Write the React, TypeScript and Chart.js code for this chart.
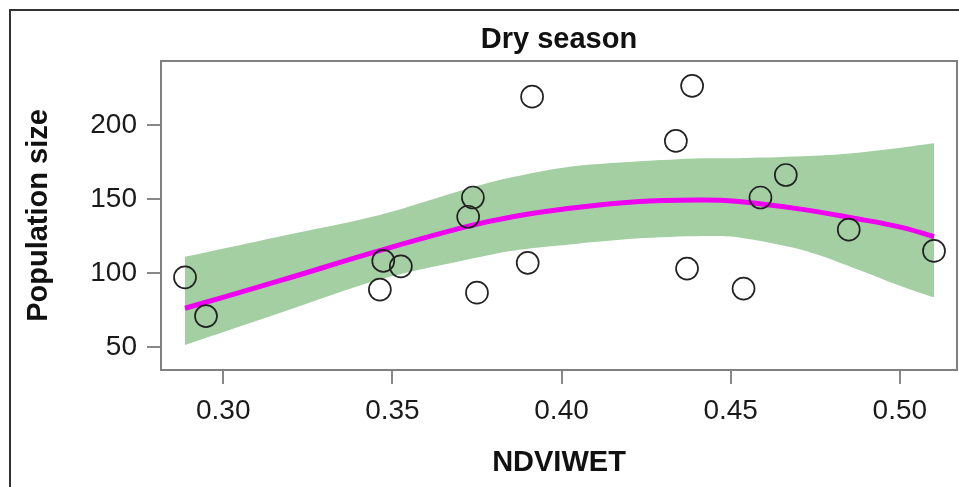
import React, { useEffect, useRef } from "react";
import { Chart, registerables } from "chart.js";

Chart.register(...registerables);

const TITLE = "Dry season";
const X_LABEL = "NDVIWET";
const Y_LABEL = "Population size";

const X_TICKS = [0.3, 0.35, 0.4, 0.45, 0.5];
const Y_TICKS = [50, 100, 150, 200];
const X_MIN = 0.2816;
const X_MAX = 0.5169;
const Y_MIN = 34.7;
const Y_MAX = 243.4;

// observed points
const OBS_X = [0.2887, 0.2949, 0.3463, 0.3473, 0.3525, 0.3724, 0.3738, 0.375, 0.39, 0.3913, 0.4338, 0.4371, 0.4386, 0.4538, 0.4588, 0.4663, 0.4849, 0.5101];
const OBS_Y = [97.3, 71.1, 89.0, 108.4, 104.7, 138.2, 151.2, 86.9, 107.1, 219.3, 189.4, 103.2, 226.6, 89.7, 151.2, 166.4, 129.5, 115.1];

// fitted curve and confidence band
const FIT_X = [0.2887, 0.3167, 0.3462, 0.3719, 0.3856, 0.4024, 0.4221, 0.4417, 0.4516, 0.4712, 0.486, 0.5008, 0.5101];
const FIT_Y = [76.4, 95.0, 115.3, 131.5, 138.2, 143.9, 148.4, 149.5, 148.6, 143.2, 137.4, 130.9, 124.7];
const UPPER = [111.2, 124.9, 139.4, 157.0, 165.0, 172.0, 175.5, 177.7, 177.7, 179.0, 181.1, 185.0, 187.8];
const LOWER = [51.6, 73.2, 95.8, 109.2, 115.3, 119.5, 123.5, 125.2, 124.5, 115.7, 104.0, 91.0, 83.8];

const FONT = "'Liberation Sans', Arial, Helvetica, sans-serif";

export default function App() {
  const ref = useRef<HTMLCanvasElement | null>(null);

  useEffect(() => {
    document.body.style.margin = "0";
    const canvas = ref.current;
    if (!canvas) return;

    const framePlugin = {
      id: "frame",
      beforeDraw(chart: any) {
        const ctx = chart.ctx;
        ctx.save();
        ctx.fillStyle = "#ffffff";
        ctx.fillRect(0, 0, chart.width, chart.height);
        ctx.strokeStyle = "#333333";
        ctx.lineWidth = 2;
        ctx.beginPath();
        ctx.moveTo(10, chart.height);
        ctx.lineTo(10, 10);
        ctx.lineTo(chart.width, 10);
        ctx.stroke();
        ctx.restore();
      },
      afterDraw(chart: any) {
        const ctx = chart.ctx;
        const a = chart.chartArea;
        ctx.save();
        ctx.strokeStyle = "#808080";
        ctx.lineWidth = 2;
        ctx.strokeRect(a.left, a.top, a.right - a.left, a.bottom - a.top);
        ctx.fillStyle = "#111111";
        ctx.font = `bold 29px ${FONT}`;
        ctx.textAlign = "center";
        ctx.textBaseline = "middle";
        ctx.fillText(TITLE, (a.left + a.right) / 2, 40);
        ctx.restore();
      },
    };

    const chart = new Chart(canvas, {
      type: "scatter",
      data: {
        datasets: [
          {
            label: "observed",
            data: OBS_X.map((x, i) => ({ x, y: OBS_Y[i] })),
            pointRadius: 11,
            pointBorderWidth: 1.7,
            pointBorderColor: "#222222",
            pointBackgroundColor: "rgba(0,0,0,0)",
            showLine: false,
          },
          {
            label: "fit",
            data: FIT_X.map((x, i) => ({ x, y: FIT_Y[i] })),
            showLine: true,
            borderColor: "#F000F0",
            borderWidth: 5,
            pointRadius: 0,
            tension: 0.4,
            fill: false,
          },
          {
            label: "upper",
            data: FIT_X.map((x, i) => ({ x, y: UPPER[i] })),
            showLine: true,
            borderWidth: 0,
            borderColor: "rgba(0,0,0,0)",
            backgroundColor: "#A3CFA3",
            pointRadius: 0,
            tension: 0.3,
            fill: "+1",
          },
          {
            label: "lower",
            data: FIT_X.map((x, i) => ({ x, y: LOWER[i] })),
            showLine: true,
            borderWidth: 0,
            borderColor: "rgba(0,0,0,0)",
            pointRadius: 0,
            tension: 0.3,
            fill: false,
          },
        ] as any,
      },
      options: {
        responsive: false,
        animation: false,
        layout: { autoPadding: false, padding: { top: 61, right: 2, left: 0, bottom: 0 } },
        plugins: {
          legend: { display: false },
          title: { display: false },
          tooltip: { enabled: false },
        },
        scales: {
          x: {
            type: "linear",
            min: X_MIN,
            max: X_MAX,
            afterBuildTicks: (scale: any) => {
              scale.ticks = X_TICKS.map((v) => ({ value: v }));
            },
            afterFit: (scale: any) => {
              scale.height = 117;
            },
            grid: {
              drawOnChartArea: false,
              drawTicks: true,
              tickLength: 14,
              color: "#888888",
              lineWidth: 2,
            },
            border: { display: false },
            ticks: {
              autoSkip: false,
              maxRotation: 0,
              padding: 10,
              color: "#1a1a1a",
              font: { family: FONT, size: 28 },
              callback: (v: any) => Number(v).toFixed(2),
            },
            title: {
              display: true,
              text: X_LABEL,
              color: "#111111",
              font: { family: FONT, size: 29, weight: "bold" },
              padding: { top: 0, bottom: 6.6 },
            },
          },
          y: {
            type: "linear",
            min: Y_MIN,
            max: Y_MAX,
            afterBuildTicks: (scale: any) => {
              scale.ticks = Y_TICKS.map((v) => ({ value: v }));
            },
            afterFit: (scale: any) => {
              scale.width = 161;
            },
            grid: {
              drawOnChartArea: false,
              drawTicks: true,
              tickLength: 14,
              color: "#888888",
              lineWidth: 2,
            },
            border: { display: false },
            ticks: {
              autoSkip: false,
              padding: 10,
              color: "#1a1a1a",
              font: { family: FONT, size: 28 },
              callback: (v: any) => String(v),
            },
            title: {
              display: true,
              text: Y_LABEL,
              color: "#111111",
              font: { family: FONT, size: 29, weight: "bold" },
              padding: { top: 21.5, bottom: 0 },
            },
          },
        },
      } as any,
      plugins: [framePlugin],
    });

    return () => chart.destroy();
  }, []);

  return (
    <div style={{ width: 959, height: 487 }}>
      <canvas ref={ref} width={959} height={487} style={{ display: "block" }} />
    </div>
  );
}
